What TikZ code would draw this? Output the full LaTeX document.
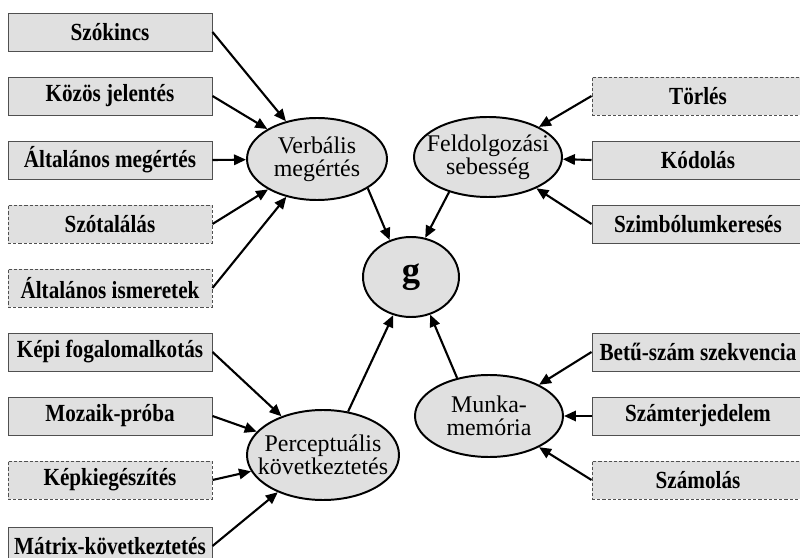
\documentclass[tikz,border=0pt]{standalone}
\usepackage{fontspec}
\setmainfont{Liberation Serif}
\newfontfamily\testfont{Liberation Serif}[FakeStretch=0.86]
\usetikzlibrary{arrows.meta, shapes.geometric}
\definecolor{boxcol}{RGB}{224, 224, 224}
\definecolor{edgecol}{RGB}{80, 80, 80}

\begin{document}
\begin{tikzpicture}[
    >=Triangle,
    flow/.style={-{Triangle[length=3mm, width=2.6mm]}, line width=1.5pt},
    testbox/.style={draw=edgecol, line width=0.7pt, fill=boxcol, minimum width=51mm, minimum height=9.5mm, inner sep=0pt, font=\testfont\fontsize{17.5}{18}\selectfont\bfseries},
    righttestbox/.style={testbox, minimum width=53mm},
    optbox/.style={dash pattern=on 0.8mm off 0.5mm},
    factor/.style={draw, ellipse, line width=1.4pt, fill=boxcol, align=center, inner xsep=-3mm, inner ysep=0pt, font=\fontsize{17}{16.5}\selectfont},
    gfactor/.style={factor, font=\fontsize{26}{28}\selectfont\bfseries, minimum width=24mm, minimum height=20mm}
]

% Frame of the picture (the boxes on the right and at the bottom run past it)
\path[use as bounding box, clip] (0,0) rectangle (20,-13.95);

% Left-hand tests
\node[testbox]         (szokincs) at (2.75,-0.8)   {Szókincs};
\node[testbox]         (kozos)    at (2.75,-2.4)   {Közös jelentés};
\node[testbox]         (altmeg)   at (2.75,-4.0)   {Általános megértés};
\node[testbox, optbox] (szotal)   at (2.75,-5.6)   {Szótalálás};
\node[testbox, optbox] (altism)   at (2.75,-7.2)   {Általános ismeretek};
\node[testbox]         (kepi)     at (2.75,-8.8)   {Képi fogalomalkotás};
\node[testbox]         (mozaik)   at (2.75,-10.4)  {Mozaik-próba};
\node[testbox, optbox] (kepkieg)  at (2.75,-12.0)  {Képkiegészítés};
\node[testbox]         (matrixk)  at (2.75,-13.65) {Mátrix-következtetés};

% Right-hand tests
\node[righttestbox, optbox] (torles)   at (17.45,-2.4)  {Törlés};
\node[righttestbox]         (kodolas)  at (17.45,-4.0)  {Kódolás};
\node[righttestbox]         (szimb)    at (17.45,-5.6)  {Szimbólumkeresés};
\node[righttestbox]         (betuszam) at (17.45,-8.8)  {Betű-szám szekvencia};
\node[righttestbox]         (szamterj) at (17.45,-10.4) {Számterjedelem};
\node[righttestbox, optbox] (szamolas) at (17.45,-12.0) {Számolás};

% Factors
\node[factor, minimum width=35mm, minimum height=20.5mm] (verbalis) at (7.925,-3.975) {Verbális\\megértés};
\node[factor, minimum width=37mm, minimum height=20mm]   (feldolg)  at (12.2,-3.925)  {Feldolgozási\\sebesség};
\node[gfactor] (g) at (10.275,-6.925) {g};
\node[factor, minimum width=38mm, minimum height=22.5mm] (percept)  at (8.075,-11.375) {Perceptuális\\következtetés};
\node[factor, minimum width=37mm, minimum height=20.5mm] (munka)    at (12.225,-10.4) {Munka-\\memória};

% Tests into their factors
\draw[flow] (szokincs.east) -- (verbalis);
\draw[flow] (kozos.east)    -- (verbalis);
\draw[flow] (altmeg.east)   -- (verbalis);
\draw[flow] (szotal.east)   -- (verbalis);
\draw[flow] (altism.east)   -- (verbalis);

\draw[flow] (torles.west)  -- (feldolg);
\draw[flow] (kodolas.west) -- (feldolg);
\draw[flow] (szimb.west)   -- (feldolg);

\draw[flow] (kepi.east)    -- (percept);
\draw[flow] (mozaik.east)  -- (percept);
\draw[flow] (kepkieg.east) -- (percept);
\draw[flow] (matrixk.east) -- (percept);

\draw[flow] (betuszam.west) -- (munka);
\draw[flow] (szamterj.west) -- (munka);
\draw[flow] (szamolas.west) -- (munka);

% Factors into g
\draw[flow] (verbalis.-30) -- (g.120);
\draw[flow] (feldolg.-138) -- (g.70);
\draw[flow] (percept.60)   -- (g.-115);
\draw[flow] (munka.130)    -- (g.-63);

\end{tikzpicture}
\end{document}
